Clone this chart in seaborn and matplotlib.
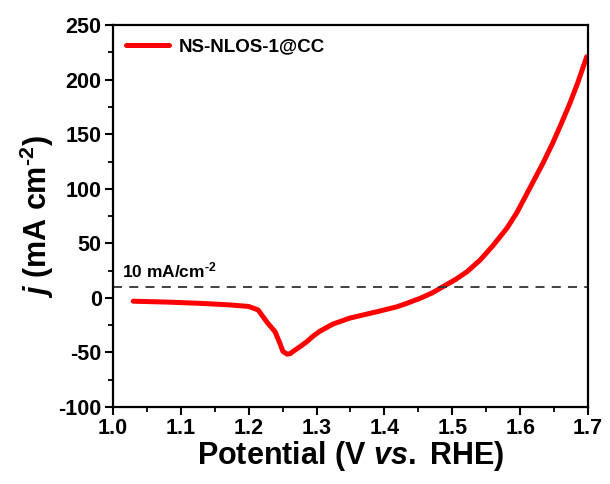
import matplotlib
matplotlib.use("Agg")
import matplotlib.pyplot as plt
import seaborn as sns
import pandas as pd
from matplotlib.ticker import MultipleLocator

potential = [1.03, 1.08, 1.13, 1.17, 1.20, 1.214, 1.221, 1.228, 1.239, 1.246,
             1.2505, 1.2565, 1.2615, 1.2655, 1.275, 1.286, 1.295, 1.305, 1.324, 1.349,
             1.368, 1.39, 1.4185, 1.435, 1.4524, 1.47, 1.4863, 1.505, 1.5216, 1.541,
             1.56, 1.5806, 1.595, 1.6145, 1.634, 1.648, 1.66, 1.673, 1.685, 1.698]
current = [-3.0, -3.8, -5.0, -6.3, -7.8, -11, -17, -23, -31, -41.5,
           -49, -51.5, -51, -49, -45, -40, -35, -30.5, -24, -18.5,
           -15.7, -12.5, -8.1, -4.5, -0.4, 4.5, 10.3, 17, 24, 34.7,
           48, 64, 78, 101, 124, 142, 159, 178, 197.5, 221]
series_name = "NS-NLOS-1@CC"
ref_level = 10
ref_label = "10 mA/cm$^{\\text{-}2}$"

sns.set_style("ticks")
plt.rcParams['font.family'] = ['Liberation Sans', 'DejaVu Sans']
plt.rcParams['font.weight'] = 'bold'
plt.rcParams['axes.unicode_minus'] = False
plt.rcParams['mathtext.fontset'] = 'custom'
plt.rcParams['mathtext.rm'] = 'Liberation Sans:bold'
plt.rcParams['mathtext.bf'] = 'Liberation Sans:bold'
plt.rcParams['mathtext.it'] = 'Liberation Sans:bold:italic'

df = pd.DataFrame({"Potential": potential, "j": current, "Sample": series_name})

fig = plt.figure(figsize=(6.1, 4.84), dpi=100)
ax = fig.add_axes([0.185, 0.159, 0.779, 0.789])

sns.lineplot(data=df, x="Potential", y="j", hue="Sample", palette=["#ff0000"],
             linewidth=3.6, ax=ax, sort=False,
             solid_joinstyle='round', solid_capstyle='round')

ax.axhline(ref_level, color="#333333", linestyle=(0, (5, 4)), linewidth=1.3)
ax.text(1.014, ref_level + 6, ref_label, fontsize=12.5, fontweight='bold',
        ha='left', va='bottom', color='black')

ax.set_xlim(1.0, 1.7)
ax.set_ylim(-100, 250)
ax.xaxis.set_major_locator(MultipleLocator(0.1))
ax.xaxis.set_minor_locator(MultipleLocator(0.05))
ax.yaxis.set_major_locator(MultipleLocator(50))
ax.yaxis.set_minor_locator(MultipleLocator(25))
ax.tick_params(which='major', direction='out', length=6, width=1.5, labelsize=15.5,
               color='black', labelcolor='black', pad=2)
ax.tick_params(which='minor', direction='out', length=3.5, width=1.3, color='black')
for lab in ax.get_xticklabels() + ax.get_yticklabels():
    lab.set_fontweight('bold')
for s in ax.spines.values():
    s.set_linewidth(1.6)
    s.set_color('black')

ax.set_xlabel("Potential (V $\\mathit{vs.}$ RHE)", fontsize=22, fontweight='bold',
              labelpad=0, color='black')
ax.set_ylabel("$\\mathit{j}$ (mA cm$^{\\text{-}2}$)", fontsize=22, fontweight='bold',
              labelpad=2, color='black')

leg = ax.legend(loc='upper left', frameon=False, fontsize=13.5, handlelength=2.3,
                borderaxespad=0.4, borderpad=0.3, handletextpad=0.5, title=None)
for t in leg.get_texts():
    t.set_fontweight('bold')
    t.set_color('black')

fig.savefig("out.png", dpi=100)
